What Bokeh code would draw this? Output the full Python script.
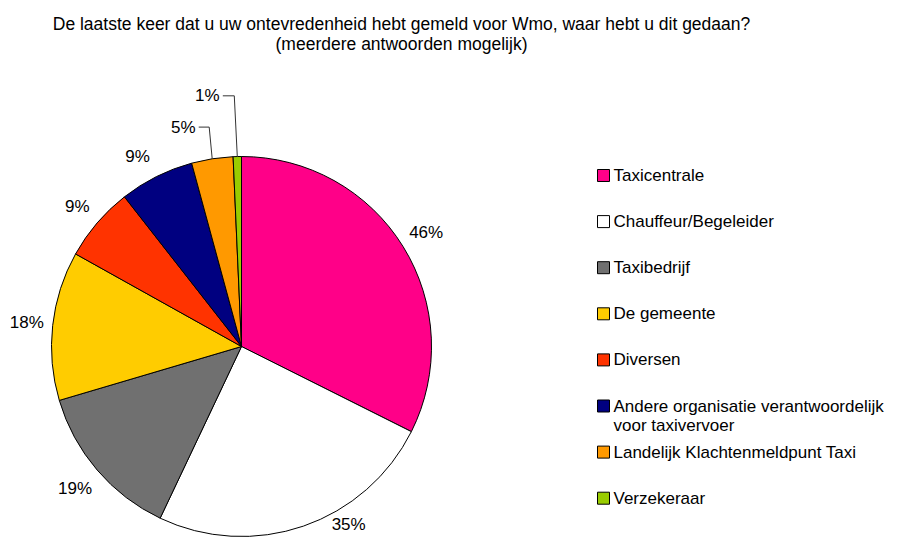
import math
from bokeh.plotting import figure
from bokeh.models import Range1d
from bokeh.core.properties import value
from bokeh.embed import file_html
from bokeh.resources import INLINE

# ---------------- data ----------------
title_lines = [
    "De laatste keer dat u uw ontevredenheid hebt gemeld voor Wmo, waar hebt u dit gedaan?",
    "(meerdere antwoorden mogelijk)",
]
categories = [
    "Taxicentrale",
    "Chauffeur/Begeleider",
    "Taxibedrijf",
    "De gemeente",
    "Diversen",
    "Andere organisatie verantwoordelijk\nvoor taxivervoer",
    "Landelijk Klachtenmeldpunt Taxi",
    "Verzekeraar",
]
percentages = [46, 35, 19, 18, 9, 9, 5, 1]
colors = ["#FF0088", "#FFFFFF", "#707070", "#FFCC00", "#FF3300", "#000080", "#FF9900", "#99CC00"]

# ---------------- layout ----------------
W, H = 890, 537
FONT = value("Liberation Sans")
FS = "17px"


def sy(y):
    # picture-pixel y -> data y (1 data unit = 1 px)
    return H - y


cx, cy, R = 241, sy(346), 190
label_radius = [217, 208, 219, 216, 216, 217, 227, 253]
label_shift = [0, 12, 0, 0, 0, 2, 6, 6.5]
leader = [False, False, False, False, False, False, True, True]

p = figure(width=W, height=H, output_backend="svg", toolbar_location=None,
           x_range=Range1d(0, W), y_range=Range1d(0, H),
           min_border=0, x_axis_type=None, y_axis_type=None)
p.grid.visible = False
p.outline_line_color = None
p.background_fill_color = "white"
p.border_fill_color = "white"

# title
p.text(x=[401, 401], y=[sy(23), sy(43)], text=title_lines, text_align="center",
       text_baseline="middle", text_font=FONT, text_font_size="17.5px", text_color="#000000")

# pie
total = float(sum(percentages))
starts, ends, mids = [], [], []
cum = 0.0
for v in percentages:
    s = 90 - (cum + v) / total * 360
    e = 90 - cum / total * 360
    starts.append(math.radians(s))
    ends.append(math.radians(e))
    mids.append(90 - (cum + v / 2) / total * 360)
    cum += v

p.wedge(x=cx, y=cy, radius=R, start_angle=starts, end_angle=ends,
        fill_color=colors, line_color="black", line_width=1)

# data labels
lx, ly, lt = [], [], []
for i, v in enumerate(percentages):
    a = math.radians(mids[i] + label_shift[i])
    x = cx + label_radius[i] * math.cos(a)
    y = cy + label_radius[i] * math.sin(a)
    lx.append(x)
    ly.append(y)
    lt.append(f"{v}%")
    if leader[i]:
        a0 = math.radians(mids[i])
        ax = cx + R * math.cos(a0)
        ay = cy + R * math.sin(a0)
        hw = 12.5
        p.line(x=[x + hw + 3, ax - 3, ax], y=[y, y, ay], line_color="#333333", line_width=1)

p.text(x=lx, y=ly, text=lt, text_align="center", text_baseline="middle",
       text_font=FONT, text_font_size=FS, text_color="#000000")

# legend
leg_x, leg_y0, leg_dy, line_h = 603, 175, 46.1, 19.5
rx, ry, tx, ty, tt = [], [], [], [], []
for i, name in enumerate(categories):
    yy = leg_y0 + leg_dy * i
    rx.append(leg_x)
    ry.append(sy(yy))
    for k, part in enumerate(name.split("\n")):
        tx.append(leg_x + 10)
        ty.append(sy(yy + k * line_h))
        tt.append(part)

p.rect(x=rx, y=ry, width=12, height=12, fill_color=colors, line_color="black", line_width=1)
p.text(x=tx, y=ty, text=tt, text_align="left", text_baseline="middle",
       text_font=FONT, text_font_size=FS, text_color="#000000")

open("out.html", "w").write(file_html(p, INLINE))
